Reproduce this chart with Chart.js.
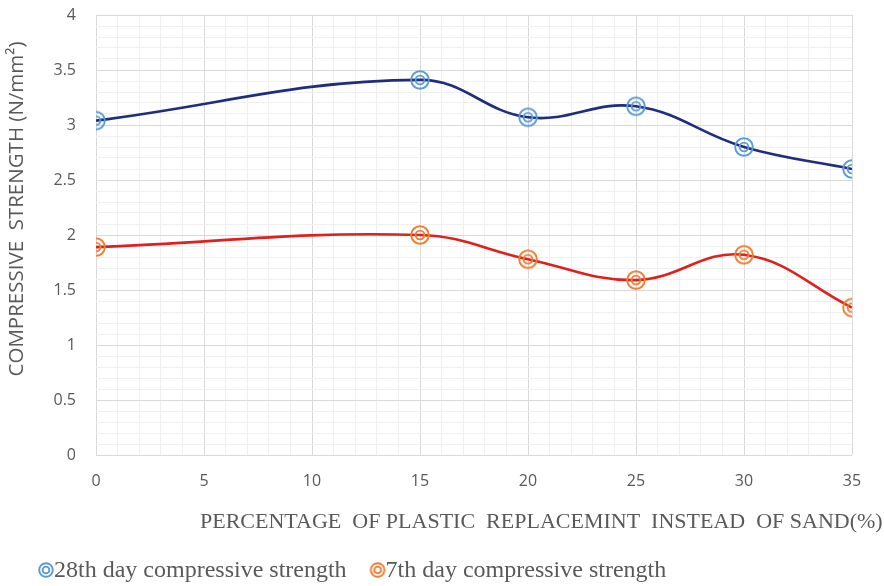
<!DOCTYPE html>
<html>
<head>
<meta charset="utf-8">
<script src="https://cdn.jsdelivr.net/npm/chart.js@4"></script>
<style>
  html, body { margin: 0; padding: 0; background: #fff; }
  #wrap { width: 884px; height: 586px; }
</style>
</head>
<body>
<div id="wrap"><canvas id="chart" width="884" height="586"></canvas></div>
<script>
// valores
const percentages = [0, 15, 20, 25, 30, 35];
const strength28 = [3.04, 3.41, 3.07, 3.17, 2.80, 2.60];
const strength7 = [1.89, 2.00, 1.78, 1.59, 1.82, 1.34];
const seriesNames = ['28th day compressive strength', '7th day compressive strength'];
const xTitle = 'PERCENTAGE  OF PLASTIC  REPLACEMINT  INSTEAD  OF SAND(%)';
const yTitle = 'COMPRESSIVE  STRENGTH (N/mm\u00B2)';

// marcador com dois círculos concêntricos
function makeMarker(color, size) {
  const c = document.createElement('canvas');
  c.width = size; c.height = size;
  const g = c.getContext('2d');
  const m = size / 2;
  g.strokeStyle = color;
  g.lineWidth = 1.9;
  g.beginPath(); g.arc(m, m, m - 2.2, 0, Math.PI * 2); g.stroke();
  g.beginPath(); g.arc(m, m, (m - 2.2) / 2, 0, Math.PI * 2); g.stroke();
  return c;
}
const blueMarker = makeMarker('#5b9bd5', 22);
const orangeMarker = makeMarker('#ed7d31', 22);
const legendMarkers = [makeMarker('#5b9bd5', 18), makeMarker('#ed7d31', 18)];

function toPoints(values) {
  return percentages.map((p, i) => ({ x: p, y: values[i] }));
}

function isMultiple(v, step) {
  const r = v / step;
  return Math.abs(r - Math.round(r)) < 1e-6;
}

// títulos e legenda desenhados à mão para acertar a posição
const titlesPlugin = {
  id: 'titles',
  afterDraw(chart) {
    const ctx = chart.ctx;
    const area = chart.chartArea;
    ctx.save();
    ctx.fillStyle = '#595959';
    ctx.font = '22px "Liberation Serif", serif';
    ctx.textBaseline = 'middle';
    ctx.textAlign = 'left';
    ctx.fillText(xTitle, area.left + 104, area.bottom + 67);

    // legenda
    ctx.font = '24px "Liberation Serif", serif';
    let x = 37;
    chart.data.datasets.forEach((ds, i) => {
      const img = legendMarkers[i];
      ctx.drawImage(img, x, 570 - img.height / 2);
      x += img.width - 1;
      ctx.fillText(ds.label, x, 571);
      x += ctx.measureText(ds.label).width + 22;
    });

    ctx.translate(17, area.top + 194);
    ctx.rotate(-Math.PI / 2);
    ctx.textAlign = 'center';
    ctx.font = '20.5px "Open Sans", sans-serif';
    ctx.fillText(yTitle, 0, 0);
    ctx.restore();
  }
};

new Chart(document.getElementById('chart'), {
  type: 'line',
  data: {
    datasets: [
      {
        label: seriesNames[0],
        data: toPoints(strength28),
        borderColor: '#1f2d7e',
        borderWidth: 2.6,
        tension: 0.4,
        pointStyle: blueMarker,
        pointRadius: 9
      },
      {
        label: seriesNames[1],
        data: toPoints(strength7),
        borderColor: '#e0201c',
        borderWidth: 2.6,
        tension: 0.4,
        pointStyle: orangeMarker,
        pointRadius: 9
      }
    ]
  },
  options: {
    responsive: false,
    animation: false,
    layout: { padding: { left: 0, right: 32, top: 0, bottom: 0 } },
    plugins: {
      tooltip: { enabled: false },
      legend: { display: false }
    },
    scales: {
      x: {
        type: 'linear',
        min: 0,
        max: 35,
        ticks: {
          stepSize: 1,
          autoSkip: false,
          maxRotation: 0,
          color: '#595959',
          font: { family: '"Open Sans", sans-serif', size: 16 },
          padding: 17,
          callback: v => isMultiple(v, 5) ? String(v) : ''
        },
        grid: {
          drawTicks: false,
          color: ctx => isMultiple(ctx.tick.value, 5) ? '#d9d9d9' : '#efefef',
          lineWidth: 1
        },
        border: { display: false },
        afterFit: scale => { scale.height = 131; }
      },
      y: {
        min: 0,
        max: 4,
        ticks: {
          stepSize: 0.1,
          autoSkip: false,
          color: '#595959',
          font: { family: '"Open Sans", sans-serif', size: 16 },
          padding: 20,
          callback: v => isMultiple(v, 0.5) ? String(Math.round(v * 2) / 2) : ''
        },
        grid: {
          drawTicks: false,
          color: ctx => isMultiple(ctx.tick.value, 0.5) ? '#d9d9d9' : '#efefef',
          lineWidth: 1
        },
        border: { display: false },
        afterFit: scale => {
          scale.width = 96;
          scale.paddingTop = 15;
        }
      }
    }
  },
  plugins: [titlesPlugin]
});
</script>
</body>
</html>
